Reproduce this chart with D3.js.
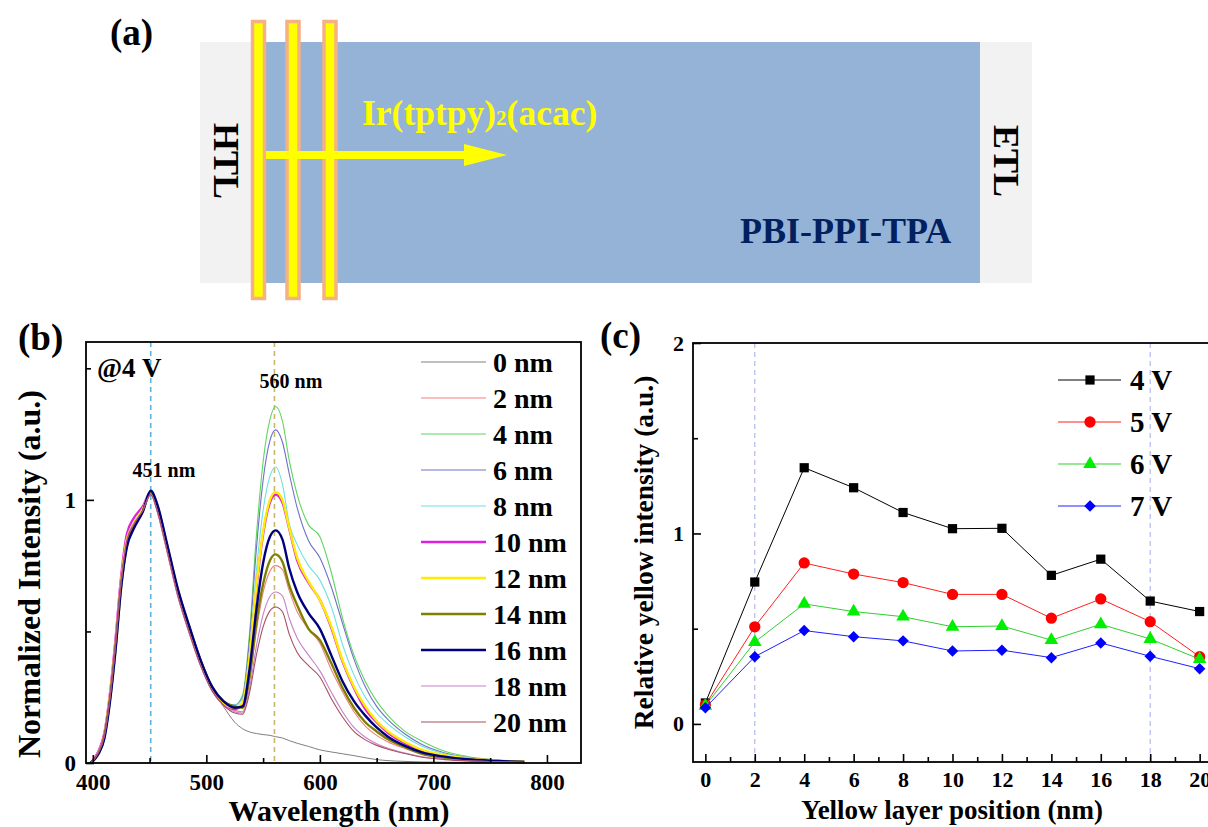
<!DOCTYPE html>
<html>
<head>
<meta charset="utf-8">
<script src="https://cdn.jsdelivr.net/npm/d3@7"></script>
<style>
  html, body { margin: 0; padding: 0; background: #fff; }
  svg { display: block; }
  text { font-family: 'Liberation Serif', 'Times New Roman', serif; font-weight: bold; }
</style>
</head>
<body>
<svg id="chart" width="1208" height="827"></svg>
<script>
// ---------- panel (b): normalized EL spectra @4 V ----------
const wavelengths = [398, 405, 410, 415, 420, 425, 430, 436, 444, 451, 457, 465, 475, 485, 495, 505, 515,
  525, 532, 538, 544, 550, 556, 561, 567, 573, 580, 590, 600, 610, 620, 630, 640, 650, 660, 675, 690, 710, 730, 755, 780];

const spectraLabels = ['0 nm', '2 nm', '4 nm', '6 nm', '8 nm', '10 nm', '12 nm', '14 nm', '16 nm', '18 nm', '20 nm'];
const spectraColors = ['#808080', '#f08080', '#5fd65f', '#7070c8', '#6fe0e0', '#e020e0', '#ffec00', '#808000', '#00007f', '#c880c8', '#a85060'];
const spectraWidths = [1, 1.1, 1.1, 1.1, 1.1, 2.4, 2.4, 2.4, 2.4, 1.1, 1.1];

const spec0 = [0.00, 0.04, 0.10, 0.24, 0.44, 0.68, 0.83, 0.90, 0.96, 1.03, 0.97, 0.83, 0.655, 0.51, 0.38, 0.28, 0.215,
  0.155, 0.13, 0.118, 0.112, 0.108, 0.105, 0.10, 0.095, 0.085, 0.075, 0.063, 0.05, 0.042, 0.035, 0.028, 0.02, 0.013, 0.009, 0.006, 0.004, 0.003, 0.002, 0.002, 0.001];
const spec2 = [0.00, 0.04, 0.10, 0.245, 0.45, 0.69, 0.85, 0.91, 0.96, 1.025, 0.96, 0.82, 0.64, 0.50, 0.375, 0.28, 0.225,
  0.20, 0.195, 0.313, 0.50, 0.648, 0.729, 0.75, 0.735, 0.655, 0.575, 0.51, 0.455, 0.355, 0.27, 0.195, 0.14, 0.105, 0.08, 0.055, 0.033, 0.019, 0.011, 0.006, 0.003];
const spec4 = [0.00, 0.04, 0.10, 0.24, 0.44, 0.68, 0.84, 0.90, 0.96, 1.03, 0.97, 0.83, 0.65, 0.51, 0.385, 0.29, 0.235,
  0.22, 0.26, 0.49, 0.86, 1.145, 1.305, 1.355, 1.30, 1.15, 1.02, 0.905, 0.86, 0.725, 0.55, 0.41, 0.31, 0.235, 0.18, 0.12, 0.083, 0.045, 0.025, 0.012, 0.006];
const spec6 = [0.00, 0.04, 0.10, 0.24, 0.45, 0.69, 0.85, 0.91, 0.965, 1.03, 0.965, 0.825, 0.645, 0.505, 0.38, 0.285, 0.232,
  0.22, 0.25, 0.47, 0.81, 1.075, 1.225, 1.266, 1.22, 1.10, 0.97, 0.845, 0.78, 0.67, 0.53, 0.395, 0.29, 0.215, 0.165, 0.11, 0.07, 0.038, 0.021, 0.011, 0.006];
const spec8 = [0.00, 0.04, 0.10, 0.24, 0.44, 0.68, 0.84, 0.90, 0.96, 1.03, 0.97, 0.83, 0.65, 0.51, 0.385, 0.285, 0.23,
  0.22, 0.245, 0.425, 0.727, 0.96, 1.09, 1.125, 1.06, 0.91, 0.83, 0.75, 0.695, 0.595, 0.45, 0.335, 0.25, 0.19, 0.148, 0.10, 0.064, 0.035, 0.02, 0.01, 0.005];
const spec10 = [0.00, 0.045, 0.11, 0.26, 0.47, 0.71, 0.87, 0.93, 0.975, 1.03, 0.96, 0.82, 0.64, 0.50, 0.375, 0.28, 0.225,
  0.205, 0.225, 0.39, 0.66, 0.87, 0.99, 1.02, 0.99, 0.89, 0.77, 0.685, 0.62, 0.515, 0.385, 0.285, 0.205, 0.155, 0.115, 0.075, 0.047, 0.028, 0.016, 0.008, 0.004];
const spec12 = [0.00, 0.04, 0.10, 0.25, 0.45, 0.69, 0.85, 0.91, 0.965, 1.025, 0.965, 0.825, 0.645, 0.505, 0.38, 0.285, 0.23,
  0.21, 0.23, 0.40, 0.67, 0.88, 1.00, 1.03, 1.00, 0.895, 0.78, 0.69, 0.62, 0.52, 0.39, 0.29, 0.215, 0.16, 0.12, 0.08, 0.05, 0.03, 0.017, 0.009, 0.005];
const spec14 = [0.00, 0.035, 0.095, 0.235, 0.43, 0.67, 0.83, 0.895, 0.955, 1.03, 0.975, 0.835, 0.655, 0.515, 0.39, 0.29, 0.235,
  0.215, 0.21, 0.325, 0.53, 0.68, 0.77, 0.793, 0.765, 0.675, 0.60, 0.51, 0.467, 0.38, 0.285, 0.21, 0.155, 0.12, 0.09, 0.06, 0.035, 0.02, 0.012, 0.007, 0.004];
const spec16 = [0.00, 0.035, 0.09, 0.23, 0.43, 0.67, 0.82, 0.89, 0.955, 1.035, 0.98, 0.84, 0.66, 0.52, 0.39, 0.29, 0.235,
  0.21, 0.215, 0.355, 0.58, 0.76, 0.86, 0.884, 0.85, 0.74, 0.65, 0.57, 0.51, 0.41, 0.31, 0.235, 0.18, 0.135, 0.10, 0.065, 0.04, 0.024, 0.014, 0.008, 0.004];
const spec18 = [0.00, 0.04, 0.10, 0.245, 0.45, 0.69, 0.85, 0.91, 0.96, 1.02, 0.955, 0.815, 0.635, 0.495, 0.37, 0.275, 0.22,
  0.195, 0.19, 0.283, 0.442, 0.564, 0.633, 0.65, 0.635, 0.55, 0.475, 0.41, 0.35, 0.27, 0.195, 0.135, 0.098, 0.073, 0.056, 0.038, 0.024, 0.014, 0.008, 0.005, 0.003];
const spec20 = [0.00, 0.04, 0.10, 0.24, 0.445, 0.685, 0.845, 0.905, 0.96, 1.02, 0.955, 0.815, 0.635, 0.495, 0.37, 0.275, 0.22,
  0.19, 0.185, 0.266, 0.408, 0.517, 0.578, 0.593, 0.575, 0.49, 0.42, 0.37, 0.327, 0.245, 0.175, 0.12, 0.088, 0.067, 0.052, 0.036, 0.022, 0.013, 0.008, 0.005, 0.003];
const spectra = [spec0, spec2, spec4, spec6, spec8, spec10, spec12, spec14, spec16, spec18, spec20];

const peakLines = [451, 560];
const peakColors = ['#5ab4dc', '#c9b76b'];

// ---------- panel (c): relative yellow intensity ----------
const positions = [0, 2, 4, 6, 8, 10, 12, 14, 16, 18, 20];
const voltLabels = ['4 V', '5 V', '6 V', '7 V'];
const volt4 = [0.11, 0.745, 1.345, 1.24, 1.11, 1.025, 1.027, 0.78, 0.865, 0.645, 0.59];
const volt5 = [0.10, 0.51, 0.845, 0.787, 0.742, 0.68, 0.68, 0.555, 0.656, 0.537, 0.353];
const volt6 = [0.095, 0.43, 0.63, 0.59, 0.563, 0.51, 0.514, 0.44, 0.523, 0.446, 0.34];
const volt7 = [0.085, 0.353, 0.49, 0.458, 0.436, 0.383, 0.387, 0.348, 0.425, 0.355, 0.29];
const voltSeries = [volt4, volt5, volt6, volt7];
const voltLineColors = ['#000000', '#ff2020', '#30d030', '#2020ff'];
const voltFillColors = ['#000000', '#ff0000', '#00ee00', '#0000ff'];
const guideLines = [2, 18];

const serif = "'Liberation Serif', 'Times New Roman', serif";
const svg = d3.select('#chart');

// ---------- panel (a): device schematic ----------
const diagram = {
  frame: { x: 200, y: 42, w: 832, h: 241 },
  emitter: { x: 266, x2: 980 },
  bars: [258.5, 293, 330],
  barTop: 21.5, barBottom: 298.5,
  arrowY: 155, arrowStart: 266, arrowHead: 464, arrowTip: 507
};

const gA = svg.append('g');
gA.append('rect')
  .attr('x', diagram.frame.x).attr('y', diagram.frame.y)
  .attr('width', diagram.frame.w).attr('height', diagram.frame.h)
  .attr('fill', '#f2f2f2');
gA.append('rect')
  .attr('x', diagram.emitter.x).attr('y', diagram.frame.y)
  .attr('width', diagram.emitter.x2 - diagram.emitter.x).attr('height', diagram.frame.h)
  .attr('fill', '#95b3d7');
gA.selectAll('rect.bar')
  .data(diagram.bars)
  .join('rect')
  .attr('class', 'bar')
  .attr('x', d => d - 6).attr('y', diagram.barTop)
  .attr('width', 12).attr('height', diagram.barBottom - diagram.barTop)
  .attr('fill', '#ffff00')
  .attr('stroke', '#f4b183')
  .attr('stroke-width', 3.5);
gA.append('rect')
  .attr('x', diagram.arrowStart).attr('y', diagram.arrowY - 4)
  .attr('width', diagram.arrowHead - diagram.arrowStart).attr('height', 8)
  .attr('fill', '#ffff00');
gA.append('path')
  .attr('d', `M${diagram.arrowHead},${diagram.arrowY - 11}L${diagram.arrowTip},${diagram.arrowY}L${diagram.arrowHead},${diagram.arrowY + 11}Z`)
  .attr('fill', '#ffff00');

const irText = gA.append('text')
  .attr('x', 362).attr('y', 125)
  .attr('font-size', 35.5)
  .attr('fill', '#ffff00');
irText.append('tspan').text('Ir(tptpy)');
irText.append('tspan').attr('font-size', 21).text('2');
irText.append('tspan').text('(acac)');

gA.append('text')
  .attr('x', 740).attr('y', 243)
  .attr('font-size', 36)
  .attr('fill', '#002060')
  .text('PBI-PPI-TPA');

[['HTL', 227], ['ETL', 1007]].forEach(([label, cx]) => {
  gA.append('text')
    .attr('transform', `translate(${cx}, 161) rotate(90)`)
    .attr('text-anchor', 'middle')
    .attr('dy', '0.35em')
    .attr('font-size', 36)
    .attr('fill', '#000')
    .text(label);
});

gA.append('text').attr('x', 110).attr('y', 45).attr('font-size', 37).text('(a)');

// ---------- helpers ----------
function styleAxis(g, size) {
  g.attr('font-family', serif).attr('font-size', size).attr('font-weight', 'bold');
  g.select('.domain').remove();
  g.selectAll('.tick line').attr('stroke', '#000').attr('stroke-width', 1.6);
  g.selectAll('.tick text').attr('fill', '#000');
}

// ---------- panel (b) ----------
const xB = d3.scaleLinear().domain([394, 830]).range([86, 581]);
const yB = d3.scaleLinear().domain([0, 1.6]).range([763, 342]);
const gB = svg.append('g');

gB.selectAll('line.peak')
  .data(peakLines)
  .join('line')
  .attr('class', 'peak')
  .attr('x1', d => xB(d)).attr('x2', d => xB(d))
  .attr('y1', yB(1.6)).attr('y2', yB(0))
  .attr('stroke', (d, i) => peakColors[i])
  .attr('stroke-width', 1.6)
  .attr('stroke-dasharray', '5,4');

const specLine = d3.line()
  .x((d, i) => xB(wavelengths[i]))
  .y(d => yB(d))
  .curve(d3.curveMonotoneX);

gB.selectAll('path.spec')
  .data(spectra)
  .join('path')
  .attr('class', 'spec')
  .attr('d', d => specLine(d))
  .attr('fill', 'none')
  .attr('stroke', (d, i) => spectraColors[i])
  .attr('stroke-width', (d, i) => spectraWidths[i])
  .attr('stroke-linejoin', 'round');

gB.append('g')
  .attr('transform', `translate(0, ${yB(0)})`)
  .call(d3.axisBottom(xB).tickValues([400, 500, 600, 700, 800]).tickSize(-8).tickPadding(11))
  .call(g => styleAxis(g, 23));
gB.append('g')
  .attr('transform', `translate(0, ${yB(0)})`)
  .call(d3.axisBottom(xB).tickValues([450, 550, 650, 750]).tickSize(-5).tickFormat(''))
  .call(g => styleAxis(g, 23));
gB.append('g')
  .attr('transform', `translate(${xB(394)}, 0)`)
  .call(d3.axisLeft(yB).tickValues([0, 1]).tickSize(-8).tickPadding(10).tickFormat(d3.format('d')))
  .call(g => styleAxis(g, 23));
gB.append('g')
  .attr('transform', `translate(${xB(394)}, 0)`)
  .call(d3.axisLeft(yB).tickValues([0.5, 1.5]).tickSize(-5).tickFormat(''))
  .call(g => styleAxis(g, 23));

gB.append('rect')
  .attr('x', xB(394)).attr('y', yB(1.6))
  .attr('width', xB(830) - xB(394)).attr('height', yB(0) - yB(1.6))
  .attr('fill', 'none').attr('stroke', '#000').attr('stroke-width', 1.8);

gB.append('text').attr('x', 97).attr('y', 377).attr('font-size', 27).text('@4 V');
gB.append('text').attr('x', 164).attr('y', 477).attr('font-size', 20).attr('text-anchor', 'middle').text('451 nm');
gB.append('text').attr('x', 291).attr('y', 388).attr('font-size', 20).attr('text-anchor', 'middle').text('560 nm');

const legB = gB.append('g')
  .selectAll('g')
  .data(spectraLabels)
  .join('g')
  .attr('transform', (d, i) => `translate(421, ${362 + i * 36})`);
legB.append('line')
  .attr('x1', 0).attr('x2', 65)
  .attr('stroke', (d, i) => spectraColors[i])
  .attr('stroke-width', (d, i) => spectraWidths[i]);
legB.append('text')
  .attr('x', 72).attr('dy', '0.35em')
  .attr('font-size', 28)
  .text(d => d);

gB.append('text')
  .attr('x', 339).attr('y', 821)
  .attr('text-anchor', 'middle').attr('font-size', 30)
  .text('Wavelength (nm)');
gB.append('text')
  .attr('transform', 'translate(40, 574) rotate(-90)')
  .attr('text-anchor', 'middle').attr('font-size', 32)
  .text('Normalized Intensity (a.u.)');
gB.append('text').attr('x', 18).attr('y', 350).attr('font-size', 37).text('(b)');

// ---------- panel (c) ----------
const xC = d3.scaleLinear().domain([-0.5, 20.5]).range([693, 1212]);
const yC = d3.scaleLinear().domain([-0.2, 2]).range([762, 343]);
const gC = svg.append('g');

gC.selectAll('line.guide')
  .data(guideLines)
  .join('line')
  .attr('class', 'guide')
  .attr('x1', d => xC(d)).attr('x2', d => xC(d))
  .attr('y1', yC(2)).attr('y2', yC(-0.2))
  .attr('stroke', '#b4b8ec')
  .attr('stroke-width', 1.2)
  .attr('stroke-dasharray', '5,4');

const symbolTypes = [d3.symbolSquare, d3.symbolCircle, d3.symbolTriangle, d3.symbolSquare];
const symbolSizes = [85, 100, 80, 66];
const symbolRotate = [0, 0, 0, 45];
const symbolPath = i => d3.symbol().type(symbolTypes[i]).size(symbolSizes[i])();

const voltLine = d3.line()
  .x((d, i) => xC(positions[i]))
  .y(d => yC(d));

voltSeries.forEach((series, s) => {
  const g = gC.append('g');
  g.append('path')
    .attr('d', voltLine(series))
    .attr('fill', 'none')
    .attr('stroke', voltLineColors[s])
    .attr('stroke-width', 1);
  g.selectAll('path.pt')
    .data(series)
    .join('path')
    .attr('class', 'pt')
    .attr('transform', (d, i) => `translate(${xC(positions[i])}, ${yC(d)}) rotate(${symbolRotate[s]})`)
    .attr('d', symbolPath(s))
    .attr('fill', voltFillColors[s]);
});

gC.append('g')
  .attr('transform', `translate(0, ${yC(-0.2)})`)
  .call(d3.axisBottom(xC).tickValues(positions).tickSize(-8).tickPadding(9))
  .call(g => styleAxis(g, 22));
gC.append('g')
  .attr('transform', `translate(0, ${yC(-0.2)})`)
  .call(d3.axisBottom(xC).tickValues(d3.range(1, 21, 2)).tickSize(-5).tickFormat(''))
  .call(g => styleAxis(g, 22));
gC.append('g')
  .attr('transform', `translate(${xC(-0.5)}, 0)`)
  .call(d3.axisLeft(yC).tickValues([0, 1, 2]).tickSize(-8).tickPadding(9).tickFormat(d3.format('d')))
  .call(g => styleAxis(g, 22));
gC.append('g')
  .attr('transform', `translate(${xC(-0.5)}, 0)`)
  .call(d3.axisLeft(yC).tickValues([0.5, 1.5]).tickSize(-5).tickFormat(''))
  .call(g => styleAxis(g, 22));

gC.append('rect')
  .attr('x', xC(-0.5)).attr('y', yC(2))
  .attr('width', xC(20.5) - xC(-0.5)).attr('height', yC(-0.2) - yC(2))
  .attr('fill', 'none').attr('stroke', '#000').attr('stroke-width', 1.8);

const legC = gC.append('g')
  .selectAll('g')
  .data(voltLabels)
  .join('g')
  .attr('transform', (d, i) => `translate(1058, ${380 + i * 42})`);
legC.append('line')
  .attr('x1', 0).attr('x2', 63)
  .attr('stroke', (d, i) => voltLineColors[i])
  .attr('stroke-width', 1);
legC.append('path')
  .attr('transform', (d, i) => `translate(32, 0) rotate(${symbolRotate[i]})`)
  .attr('d', (d, i) => symbolPath(i))
  .attr('fill', (d, i) => voltFillColors[i]);
legC.append('text')
  .attr('x', 72).attr('dy', '0.35em')
  .attr('font-size', 29)
  .text(d => d);

gC.append('text')
  .attr('x', 952).attr('y', 819)
  .attr('text-anchor', 'middle').attr('font-size', 27)
  .text('Yellow layer position (nm)');
gC.append('text')
  .attr('transform', `translate(653, ${(yC(2) + yC(-0.2)) / 2}) rotate(-90)`)
  .attr('text-anchor', 'middle').attr('font-size', 27.5)
  .text('Relative yellow intensity (a.u.)');
gC.append('text').attr('x', 600).attr('y', 348).attr('font-size', 37).text('(c)');
</script>
</body>
</html>
